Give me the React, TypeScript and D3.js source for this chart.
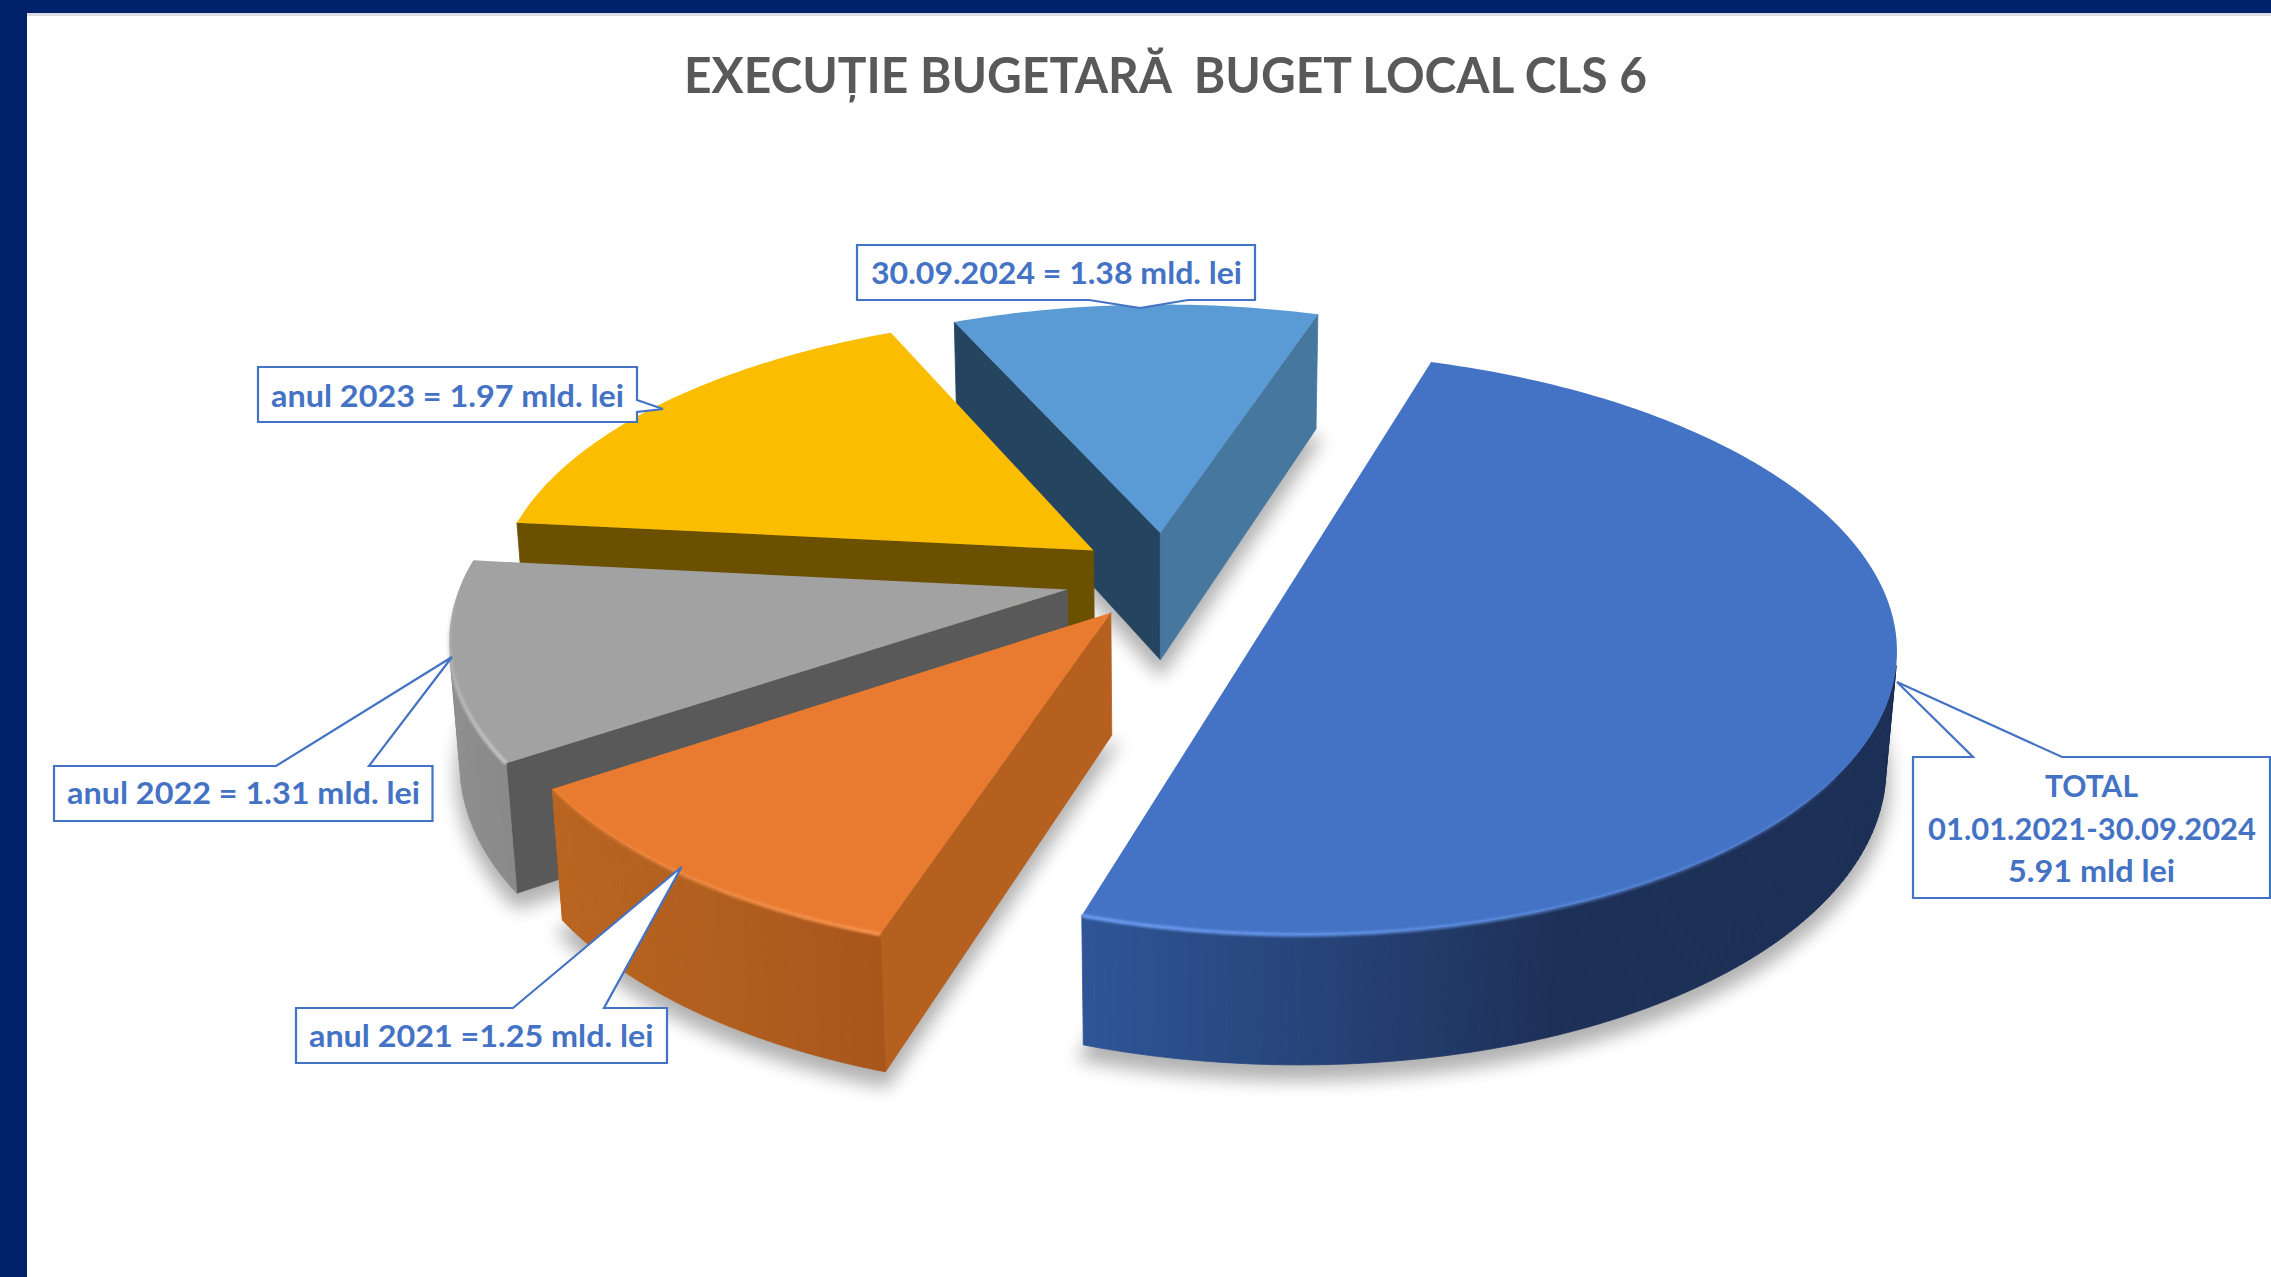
import * as d3 from "d3"

const W = 2271
const H = 1277

// chart values, mld. lei
const categories = ["TOTAL", "anul 2021", "anul 2022", "anul 2023", "30.09.2024"]
const values = [5.91, 1.25, 1.31, 1.97, 1.38]

const titleText = "EXECUȚIE BUGETARĂ  BUGET LOCAL CLS 6"
const labelLines = [
	["TOTAL", "01.01.2021-30.09.2024", "5.91 mld lei"],
	["anul 2021 =1.25 mld. lei"],
	["anul 2022 = 1.31 mld. lei"],
	["anul 2023 = 1.97 mld. lei"],
	["30.09.2024 = 1.38 mld. lei"],
]

// styling of each slice
const topColors = ["#4472c4", "#e97b30", "#a2a2a2", "#fbbd00", "#5b9bd5"]
const startFaceColors = ["#2a4a80", "#b5601f", "#595959", "#6b5000", "#254460"]
const endFaceColors = ["#2a4a80", "#b5601f", "#595959", "#6b5000", "#46779f"]
const sideAngles = [
	[198, 158, 18],
	[198, 215, 236],
	[236, 250, 276],
	[276, 300, 336],
	[336, 360, 378],
]
const sideColors = [
	["#2f5597", "#1d3057", "#1a2c50"],
	["#a8561c", "#b2601f", "#ba6420"],
	["#8a8a8a", "#8e8e8e", "#929292"],
	["#6b5000", "#6b5000", "#6b5000"],
	["#46779f", "#46779f", "#46779f"],
]
const bevelColors = ["#6a9bf0", "#f7924e", "#c4c4c4", "#fbbd00", "#5b9bd5"]
const bevelRange = [
	[198, 125],
	[198, 236],
	[236, 268],
	[276, 276],
	[336, 336],
]

// position of each slice on the pie plane, in pie radii
const offsetU = [0.184, -0.0973, -0.1707, -0.13, -0.017]
const offsetV = [0.0644, 0.112, 0.031, -0.1106, -0.1755]
const radius = [1, 1, 1.01, 1, 0.985]
const thickness = [0.417, 0.44, 0.44, 0.44, 0.47]

// camera
const originX = 1170.2
const originY = 580.8
const scaleU = 599.6
const scaleV = 279.5
const perspective = 0.15
const depthShrink = 0.015

const project = (u: number, v: number, z: number, drop: number): [number, number] => {
	const w = 1 - perspective * v + depthShrink * z
	return [originX + (scaleU * u) / w, originY + (scaleV * (v + drop * z)) / w]
}

const rad = Math.PI / 180
const line = d3.line()
const pie = d3
	.pie<number>()
	.sort(null)
	.startAngle(18 * rad)
	.endAngle(378 * rad)

const buildSlice = (d: d3.PieArcDatum<number>, i: number) => {
	const a0 = d.startAngle / rad
	const a1 = d.endAngle / rad
	const steps = d3.range(a0, a1, 1).concat([a1])
	const plane: [number, number][] = [
		[offsetU[i], offsetV[i]],
		...steps.map((a): [number, number] => [
			offsetU[i] + radius[i] * Math.sin(a * rad),
			offsetV[i] - radius[i] * Math.cos(a * rad),
		]),
	]
	const top = plane.map(([u, v]) => project(u, v, 0, thickness[i]))
	const bottom = plane.map(([u, v]) => project(u, v, 1, thickness[i]))
	const sideScale = d3.scaleLinear<string>().domain(sideAngles[i]).range(sideColors[i]).clamp(true)

	const faces: { d: string; color: string }[] = []
	const n = top.length
	for (let k = 0; k < n; k++) {
		const m = (k + 1) % n
		const quad: [number, number][] = [top[k], top[m], bottom[m], bottom[k]]
		// d3.polygonArea is positive for faces turned to the camera here
		if (d3.polygonArea(quad) <= 0) continue
		let color
		if (k === 0) color = startFaceColors[i]
		else if (m === 0) color = endFaceColors[i]
		else color = sideScale(steps[k - 1] + 0.5)
		faces.push({ d: line(quad) + "Z", color })
	}

	// highlight along the front rim
	const [b0, b1] = bevelRange[i]
	const bevelOpacity = d3.scaleLinear().domain([b0, b1]).range([1, 0.15]).clamp(true)
	const bevel: { d: string; opacity: number }[] = []
	if (b0 !== b1) {
		const lo = Math.min(b0, b1)
		const hi = Math.max(b0, b1)
		for (let k = 1; k < n - 1; k++) {
			const a = steps[k - 1]
			if (a < lo || a >= hi) continue
			bevel.push({ d: line([top[k], top[k + 1]]) as string, opacity: bevelOpacity(a) })
		}
	}
	return { top: line(top) + "Z", bottom: line(bottom) + "Z", faces, bevel }
}

const slices = pie(values).map(buildSlice)
const drawOrder = [4, 3, 2, 1, 0]

// callout outlines: box corners with the pointer on one edge
const callouts: [number, number][][] = [
	[[1913, 757], [1973, 757], [1897, 682], [2062, 757], [2270, 757], [2270, 898], [1913, 898]],
	[[296, 1008], [513, 1008], [681.5, 867], [604, 1008], [667, 1008], [667, 1063], [296, 1063]],
	[[54, 766], [276, 766], [452, 657], [369, 766], [432.5, 766], [432.5, 821], [54, 821]],
	[[258, 367], [637, 367], [637, 400], [663, 409], [637, 412], [637, 422], [258, 422]],
	[[857, 245], [1255, 245], [1255, 300], [1188, 300], [1140, 308], [1089, 300], [857, 300]],
]
const textStart = [[2045, 1928, 2008], [309], [67], [271], [871]]
const textWidth = [[93, 328, 167], [344.5], [353], [353], [371]]
const textBase = [[797, 840, 882], [1046.5], [804], [407], [284]]

const App = () => {
	return (
		<svg
			width={W}
			height={H}
			viewBox={`0 0 ${W} ${H}`}
			style={{ position: "fixed", left: 0, top: 0, background: "#fff" }}
			fontFamily="Lato, Carlito, 'Open Sans', sans-serif"
			fontWeight={700}
		>
			<defs>
				<filter id="shadow" x="-20%" y="-20%" width="140%" height="140%">
					<feGaussianBlur stdDeviation="9" />
				</filter>
				<filter id="rim" x="-10%" y="-10%" width="120%" height="120%">
					<feGaussianBlur stdDeviation="1.1" />
				</filter>
			</defs>

			<rect x={0} y={13} width={W} height={3} fill="#dcdde2" />
			<rect x={0} y={0} width={W} height={13} fill="#00226a" />
			<rect x={0} y={0} width={27} height={H} fill="#00226a" />

			<text x={684} y={93} fontSize={49.5} fill="#595959" textLength={963} lengthAdjust="spacingAndGlyphs" xmlSpace="preserve">
				{titleText}
			</text>

			{drawOrder.map((i) => (
				<path
					key={"shadow" + categories[i]}
					d={slices[i].bottom}
					transform="translate(0,12)"
					fill="#000"
					stroke="#000"
					strokeWidth={8}
					opacity={0.3}
					filter="url(#shadow)"
				/>
			))}

			{drawOrder.map((i) => (
				<g key={categories[i]}>
					{slices[i].faces.map((f, k) => (
						<path key={k} d={f.d} fill={f.color} stroke={f.color} strokeWidth={0.8} />
					))}
					<path d={slices[i].top} fill={topColors[i]} />
					<g filter="url(#rim)">
						{slices[i].bevel.map((b, k) => (
							<path key={k} d={b.d} fill="none" stroke={bevelColors[i]} strokeWidth={4} opacity={b.opacity} />
						))}
					</g>
				</g>
			))}

			{callouts.map((c, i) => (
				<g key={categories[i] + "label"}>
					<path d={line(c) + "Z"} fill="#fff" stroke="#4472c4" strokeWidth={2.2} strokeLinejoin="miter" />
					{labelLines[i].map((t, k) => (
						<text
							key={k}
							x={textStart[i][k]}
							y={textBase[i][k]}
							fontSize={30}
							fill="#4472c4"
							textLength={textWidth[i][k]}
							lengthAdjust="spacingAndGlyphs"
						>
							{t}
						</text>
					))}
				</g>
			))}
		</svg>
	)
}

export default App
